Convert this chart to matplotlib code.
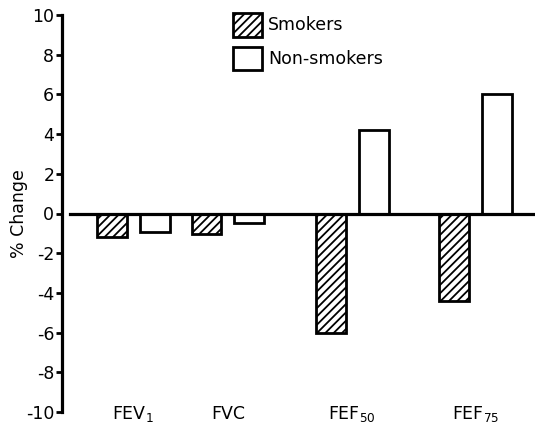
import matplotlib
matplotlib.use("Agg")
import matplotlib.pyplot as plt

# ---- data ----
categories = ["FEV$_\\mathregular{1}$", "FVC", "FEF$_\\mathregular{50}$", "FEF$_\\mathregular{75}$"]
smokers = [-1.2, -1.05, -6.0, -4.4]
non_smokers = [-0.95, -0.5, 4.2, 6.0]
series_names = ["Smokers", "Non-smokers"]
yticks = [-10, -8, -6, -4, -2, 0, 2, 4, 6, 8, 10]

# ---- layout ----
group_pos = [1.33, 2.28, 3.52, 4.76]
offset = 0.215
width = 0.30

plt.rcParams['font.family'] = ['DejaVu Sans']
plt.rcParams['axes.unicode_minus'] = False
plt.rcParams['hatch.linewidth'] = 1.3
plt.rcParams['hatch.color'] = 'black'
plt.rcParams['mathtext.fontset'] = 'dejavusans'

W, H = 537, 429
fig = plt.figure(figsize=(W / 100, H / 100), dpi=100)
ax_left, ax_right = 62, 535
ax_top, ax_bot = 15, 412
ax = fig.add_axes([ax_left / W, 1 - ax_bot / H, (ax_right - ax_left) / W, (ax_bot - ax_top) / H])

ax.set_xlim(0.62, 5.35)
ax.set_ylim(-10, 10)

xs_s = [p - offset for p in group_pos]
xs_n = [p + offset for p in group_pos]
b1 = ax.bar(xs_s, smokers, width=width, color='white', edgecolor='black',
            linewidth=2.0, hatch='////', label=series_names[0], zorder=3)
b2 = ax.bar(xs_n, non_smokers, width=width, color='white', edgecolor='black',
            linewidth=2.0, label=series_names[1], zorder=3)

ax.axhline(0, xmin=(70 - ax_left) / (ax_right - ax_left), xmax=1,
           color='black', linewidth=2.3, zorder=4)

for s in ['top', 'right', 'bottom']:
    ax.spines[s].set_visible(False)
ax.spines['left'].set_linewidth(2.3)
ax.set_yticks(yticks)
ax.set_yticklabels([str(t) for t in yticks])
ax.tick_params(axis='y', direction='out', length=4.5, width=2.0, pad=1.0,
               labelsize=12.5)
ax.set_xticks([])

ax.set_ylabel("% Change", fontsize=12.5)
ax.yaxis.set_label_coords(-0.072, 0.5)

for p, lab in zip(group_pos, categories):
    ax.text(p, -10.35, lab, ha='center', va='baseline', fontsize=12.5, clip_on=False)

fs = 12.5
fspx = fs * 100 / 72
hh = (23.5 / fspx - 0.245) / 0.65
leg = fig.legend(handles=[b1, b2], labels=series_names, loc='upper left',
                 bbox_to_anchor=(233 / W, 1 - 13 / H), bbox_transform=fig.transFigure,
                 frameon=False, fontsize=fs, borderpad=0, borderaxespad=0,
                 handlelength=29 / fspx, handleheight=hh,
                 handletextpad=6 / fspx, labelspacing=10 / fspx)

fig.savefig("out.png", dpi=100)
